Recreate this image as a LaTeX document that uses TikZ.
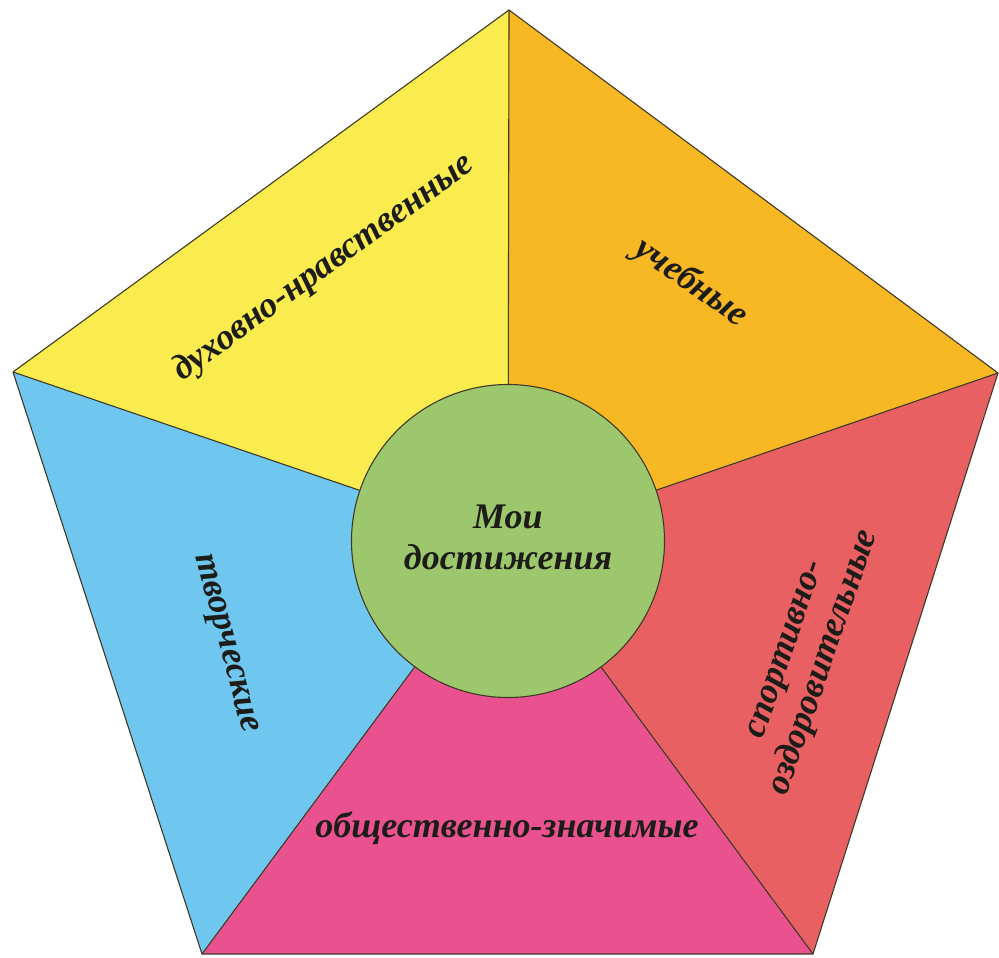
\documentclass[tikz,border=0pt]{standalone}
\usepackage{fontspec}
\setmainfont{Liberation Serif}
\definecolor{cyel}{HTML}{FAEB4E}
\definecolor{corg}{HTML}{F8B823}
\definecolor{cred}{HTML}{E96063}
\definecolor{cmag}{HTML}{E9528F}
\definecolor{cblu}{HTML}{6FC6EF}
\definecolor{cgrn}{HTML}{9CC76C}
\definecolor{cedge}{HTML}{3E3A26}
\definecolor{ctxt}{HTML}{1C1C18}
\tikzset{
  sector/.style={draw=cedge, line width=1.1pt, line join=miter},
  lbl/.style={font=\fontsize{36}{41}\selectfont\bfseries\itshape, text=ctxt, inner sep=0pt, align=center},
}
\begin{document}
\begin{tikzpicture}[x=1pt,y=-1pt]
\useasboundingbox (0,0) rectangle (999,958);
\coordinate (T) at (509,10);
\coordinate (R) at (998,373);
\coordinate (BR) at (813,954);
\coordinate (BL) at (202,954);
\coordinate (L) at (13,372);
\coordinate (C) at (508,541);
\fill[cyel] (L) -- (T) -- (C) -- cycle;
\fill[corg] (T) -- (R) -- (C) -- cycle;
\fill[cred] (R) -- (BR) -- (C) -- cycle;
\fill[cmag] (BR) -- (BL) -- (C) -- cycle;
\fill[cblu] (BL) -- (L) -- (C) -- cycle;
\draw[sector] (T) -- (R) -- (BR) -- (BL) -- (L) -- cycle;
\draw[sector] (T) -- (C) (R) -- (C) (BR) -- (C) (BL) -- (C) (L) -- (C);
\node[circle, fill=cgrn, draw=cedge, line width=1.1pt, minimum size=313pt, inner sep=0pt] (hub) at (C) {};
\node[lbl] (mine) at (508,537) {Мои\\достижения};
\node[lbl, rotate=36] (dukh) at (324,268) {духовно-нравственные};
\node[lbl, rotate=-35] (ucheb) at (691,283) {учебные};
\node[lbl, rotate=-75] (tvor) at (224,644) {творческие};
\node[lbl, rotate=71] (sport) at (808,657) {спортивно-\\оздоровительные};
\node[lbl] (obsch) at (507,828) {общественно-значимые};
\end{tikzpicture}
\end{document}
